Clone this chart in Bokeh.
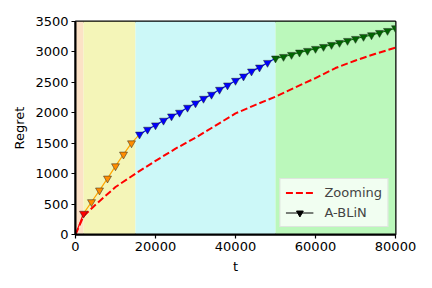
from bokeh.plotting import figure
from bokeh.models import ColumnDataSource, FixedTicker, Legend, LegendItem, Range1d
from bokeh.embed import file_html
from bokeh.resources import INLINE

# ---- data ----
phase_left = [0, 2000, 15000, 50000]
phase_right = [2000, 15000, 50000, 80000]
phase_colors = ["#FCE2C6", "#F4F5B8", "#CCF8F8", "#BBF8BB"]

zoom_t = [0, 2000, 5000, 10000, 15000, 20000, 25000, 30000, 35000, 40000,
          45000, 50000, 55000, 60000, 65000, 70000, 75000, 80000]
zoom_r = [0, 300, 490, 780, 1000, 1210, 1410, 1590, 1790, 1990,
          2130, 2265, 2420, 2570, 2735, 2860, 2970, 3070]

ablin_t = [0, 2000, 4000, 6000, 8000, 10000, 12000, 14000, 16000, 18000,
           20000, 22000, 24000, 26000, 28000, 30000, 32000, 34000, 36000, 38000,
           40000, 42000, 44000, 46000, 48000, 50000, 52000, 54000, 56000, 58000,
           60000, 62000, 64000, 66000, 68000, 70000, 72000, 74000, 76000, 78000, 80000]
ablin_r = [0, 344, 534, 726, 922, 1124, 1316, 1501, 1645, 1725,
           1796, 1873, 1943, 2004, 2086, 2157, 2233, 2299, 2381, 2452,
           2528, 2599, 2681, 2746, 2823, 2895, 2921, 2954, 2992, 3020,
           3053, 3085, 3118, 3151, 3184, 3217, 3250, 3277, 3315, 3348, 3392]
seg_bounds = [(0, 1), (1, 8), (8, 25), (25, 40)]
seg_line_colors = ["red", "orange", "blue", "green"]
seg_marker_colors = ["red", "darkorange", "blue", "darkgreen"]
marker_bounds = [(1, 1), (2, 7), (8, 24), (25, 40)]

x_ticks = [0, 20000, 40000, 60000, 80000]
y_ticks = [0, 500, 1000, 1500, 2000, 2500, 3000, 3500]

FONT = "DejaVu Sans"

p = figure(width=432, height=288, output_backend="svg", toolbar_location=None,
           x_range=Range1d(0, 80000), y_range=Range1d(0, 3500),
           min_border_left=75, min_border_right=37, min_border_top=21, min_border_bottom=54)
p.background_fill_color = "white"
p.border_fill_color = "white"
p.grid.visible = False

p.quad(left=phase_left, right=phase_right, bottom=0, top=3500,
       fill_color=phase_colors, line_color=None)

zr = p.line(zoom_t, zoom_r, line_color="red", line_width=2, line_dash="7 3")

for (a, b), lc in zip(seg_bounds, seg_line_colors):
    p.line(ablin_t[a:b + 1], ablin_r[a:b + 1], line_color=lc, line_width=1.2)
for (a, b), mc in zip(marker_bounds, seg_marker_colors):
    p.scatter(ablin_t[a:b + 1], ablin_r[a:b + 1], marker="inverted_triangle", size=8,
              fill_color=mc, line_color="#222222", line_width=0.5)

nan = float("nan")
empty = ColumnDataSource(data=dict(x=[nan], y=[nan]))
lg_line = p.line("x", "y", source=empty, line_color="black", line_width=1)
lg_mark = p.scatter("x", "y", source=empty, marker="inverted_triangle", size=8,
                    fill_color="black", line_color="black")

legend = Legend(items=[LegendItem(label="Zooming", renderers=[zr]),
                       LegendItem(label="A-BLiN", renderers=[lg_line, lg_mark])],
                location="bottom_right", margin=7, padding=5, spacing=3,
                label_standoff=11, glyph_width=28, glyph_height=17, label_height=17,
                label_text_font=FONT, label_text_font_size="13px",
                background_fill_color="white", background_fill_alpha=0.8,
                border_line_color="#cccccc", border_line_width=1)
p.add_layout(legend, "center")

p.xaxis.ticker = FixedTicker(ticks=x_ticks)
p.yaxis.ticker = FixedTicker(ticks=y_ticks)
p.xaxis.axis_label = "t"
p.yaxis.axis_label = "Regret"
for ax in (p.xaxis, p.yaxis):
    ax.axis_label_text_font = FONT
    ax.axis_label_text_font_size = "13px"
    ax.axis_label_text_font_style = "normal"
    ax.axis_label_text_color = "black"
    ax.major_label_text_font = FONT
    ax.major_label_text_font_size = "13px"
    ax.major_label_text_color = "black"
    ax.axis_line_color = "black"
    ax.axis_line_width = 2
    ax.major_tick_line_color = "black"
    ax.major_tick_line_width = 1.2
    ax.major_tick_out = 4
    ax.major_tick_in = 0
    ax.minor_tick_line_color = None
    ax.major_label_standoff = 3
    ax.axis_label_standoff = 5
p.outline_line_color = "black"
p.outline_line_width = 2
p.outline_line_alpha = 1

open("out.html", "w").write(file_html(p, INLINE))
